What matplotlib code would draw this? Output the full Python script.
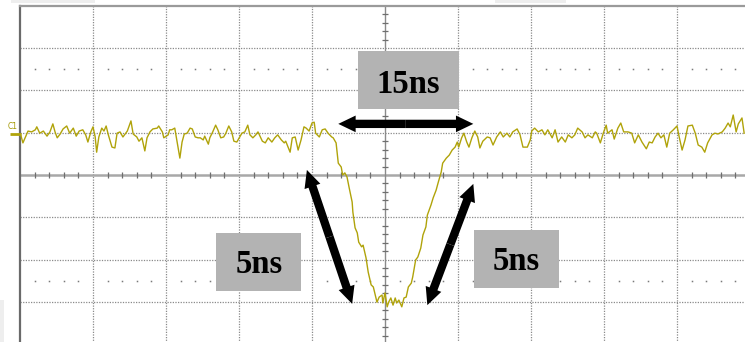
import numpy as np
import matplotlib
matplotlib.use("Agg")
import matplotlib.pyplot as plt
from matplotlib.patches import Rectangle, FancyArrowPatch

# ---- Data (10 ns/div, 10 mV/div) ----
time_ns = [
    -49.9, -49.6, -49.3, -48.9, -48.4, -47.9, -47.7, -47.3, -46.8, -46.3,
    -45.9, -45.5, -45.2, -44.9, -44.5, -44.1, -43.6, -43.2, -42.7, -42.3,
    -41.9, -41.4, -41.0, -40.7, -40.3, -40.0, -39.7, -39.5, -39.2, -38.8,
    -38.5, -38.2, -37.9, -37.4, -37.0, -36.7, -36.3, -35.9, -35.3, -34.8,
    -34.5, -34.0, -33.7, -33.3, -32.9, -32.6, -32.2, -31.8, -31.2, -31.0,
    -30.5, -30.3,
    -29.7, -29.5, -29.2, -28.8, -28.4, -28.1, -27.8, -27.5, -27.1, -26.7,
    -26.4, -26.0, -25.6, -25.3, -24.9, -24.7, -24.2, -24.0, -23.6, -23.2,
    -22.9, -22.5, -22.1, -21.8, -21.4, -21.0, -20.7, -20.3, -19.9, -19.6,
    -19.2, -18.8, -18.5, -18.1, -17.7, -17.4, -16.8, -16.4, -16.0, -15.5,
    -15.1, -14.7, -14.2, -13.8, -13.6, -13.0, -12.7, -12.3, -11.9, -11.5,
    -11.1, -10.8, -10.4, -10.0, -9.7, -9.5, -9.0, -8.6, -8.2, -7.8, -7.3,
    -7.1, -6.7, -6.4, -6.0, -5.8, -5.5, -5.2, -4.9, -4.5, -4.4,
    -4.1, -3.8, -3.6, -3.2, -3.0, -2.6, -2.3, -1.9, -1.6, -1.4,
    -1.1, -0.8, -0.4, -0.3, 0.0, 0.3, 0.5, 0.8, 1.1, 1.4,
    1.6, 1.9, 2.3, 2.6, 2.9, 3.2, 3.6, 3.8, 4.2, 4.5,
    4.9, 5.2, 5.6, 5.8, 6.3, 6.6, 7.0, 7.3, 7.7, 7.9,
    8.4, 8.8, 9.2, 9.6, 9.9, 10.1, 10.5, 10.8, 11.2, 11.5,
    11.9, 12.3, 12.7, 13.0, 13.4, 14.0, 14.4, 14.8, 15.3, 15.8,
    16.2, 16.7, 17.1, 17.5, 18.1, 18.5, 18.9, 19.5, 19.9, 20.1,
    20.5, 21.0, 21.5, 21.9, 22.3, 22.9, 23.3, 23.7, 24.2, 24.7,
    25.1, 25.6, 26.0, 26.4, 27.0, 27.4, 27.8, 28.4, 28.8,
    29.0, 29.5, 29.9, 30.3, 30.5, 31.1, 31.4, 31.9, 32.3, 32.7,
    33.3, 33.8, 34.2, 34.7, 35.2, 35.8, 36.2, 36.6, 37.0, 37.4,
    37.8, 38.2, 38.6, 39.0, 39.5, 40.0, 40.3, 40.7, 41.1, 41.5,
    42.1, 42.5, 42.9, 43.4, 43.8, 44.2, 44.8, 45.2, 45.6, 46.2,
    46.6, 47.0, 47.3, 47.7, 48.1, 48.4, 48.9, 49.2,
]
amp_mv = [
    9.5, 7.6, 8.8, 10.4, 10.2, 10.7, 11.4, 9.9, 10.4, 9.2,
    10.2, 12.1, 10.2, 8.8, 9.7, 10.9, 11.6, 9.9, 11.1, 9.2,
    10.4, 10.7, 9.5, 7.8, 10.2, 11.4, 9.0, 5.4, 9.0, 11.1,
    10.4, 11.6, 9.5, 6.6, 6.4, 9.9, 10.2, 9.0, 10.4, 12.8,
    9.7, 9.0, 8.0, 8.8, 5.7, 8.8, 10.2, 10.9, 11.1, 11.6,
    10.2, 8.8,
    9.5, 10.7, 10.7, 11.1, 7.1, 4.0, 7.8, 9.7, 9.9, 11.1,
    10.9, 9.0, 8.8, 8.8, 8.3, 9.2, 7.3, 8.8, 10.2, 11.8,
    10.7, 8.8, 9.0, 9.9, 11.6, 10.2, 8.0, 7.8, 9.0, 9.9,
    10.2, 11.8, 9.5, 8.8, 9.5, 10.2, 8.0, 7.6, 8.8, 7.8,
    8.8, 9.5, 8.3, 7.6, 8.0, 5.4, 8.8, 9.0, 5.9, 8.3,
    11.4, 11.1, 10.4, 12.3, 12.5, 9.9, 9.0, 10.7, 10.9, 9.9, 9.0,
    8.8, 7.6, 2.8, 1.9, 0.0, 0.5, -0.5, -3.1, -6.4, -8.8,
    -12.5, -13.7, -15.9, -17.0, -16.6, -19.6, -23.0, -26.0, -26.5, -27.9,
    -30.1, -28.9, -28.4, -30.3, -27.9, -31.2, -30.1, -29.1, -30.8, -29.1,
    -30.3, -29.6, -31.2, -29.1, -28.9, -26.5, -25.6, -24.1, -20.1, -19.4,
    -17.3, -14.2, -12.3, -9.5, -7.1, -5.4, -3.6, -1.7, 0.7, 2.8,
    4.0, 4.7, 5.9, 6.6, 7.8, 6.6, 8.8, 9.9, 7.8, 6.6,
    8.8, 10.4, 9.0, 6.4, 8.0, 9.0, 8.8, 7.1, 9.0, 10.2,
    9.0, 9.9, 9.0, 10.2, 10.9, 9.5, 6.6, 6.6, 8.3, 10.4,
    11.1, 10.2, 10.7, 9.5, 10.7, 8.8, 10.7, 7.8, 9.0, 7.8,
    9.5, 8.8, 9.5, 11.1, 10.2, 8.8, 9.5, 8.8, 10.2,
    9.9, 7.6, 9.9, 11.8, 9.9, 10.7, 8.5, 11.1, 12.3, 10.2,
    10.2, 9.9, 7.6, 9.5, 7.8, 6.2, 7.8, 7.6, 9.0, 9.9,
    8.8, 9.5, 6.6, 9.9, 10.7, 11.6, 9.0, 5.9, 8.3, 11.6,
    11.8, 9.9, 7.1, 6.6, 5.4, 7.6, 9.5, 9.9, 9.7, 10.2,
    11.1, 12.3, 11.4, 14.2, 10.2, 12.1, 13.5, 9.9,
]
channel_label = "C1"
box_labels = ["15ns", "5ns", "5ns"]

# ---- Figure ----
W, H = 745, 342
fig = plt.figure(figsize=(W / 100, H / 100), dpi=100)
fig.patch.set_facecolor("white")
ax = fig.add_axes([20 / W, (H - 344) / H, 730 / W, 338 / H])
ax.set_xlim(-50, 50)
ax.set_ylim(-40, 40)
ax.axis("off")

# faint background artefacts
for (x0, y0, w, h) in [(11, H - 3, 84, 3), (495, H - 3, 71, 3), (0, 0, 4, 42)]:
    fig.patches.append(Rectangle((x0 / W, y0 / H), w / W, h / H, transform=fig.transFigure,
                                 facecolor="#eeeeee", edgecolor="none", zorder=0))

# graticule
dot = (0, (1, 1.1))
for t in np.arange(-40, 41, 10):
    if t != 0:
        ax.axvline(t, color="#8a8a8a", lw=0.9, ls=dot, zorder=1)
for v in np.arange(-30, 31, 10):
    if v != 0:
        ax.axhline(v, color="#8a8a8a", lw=0.9, ls=dot, zorder=1)
ax.axhline(0, color="#a8a8a8", lw=1.8, zorder=1)
ax.axvline(0, color="#8a8a8a", lw=1.0, zorder=1)
ax.axvline(-50, color="#6a6a6a", lw=1.6, zorder=2, clip_on=False)
ax.axhline(40, color="#9a9a9a", lw=1.6, zorder=2, clip_on=False)

minor_t = np.array([t for t in np.arange(-48, 50, 2) if t % 10 != 0])
minor_v = np.array([v for v in np.arange(-38, 40, 2) if v % 10 != 0])
ax.vlines(minor_t, -0.75, 0.75, color="#6e6e6e", lw=0.9, zorder=2)
ax.hlines(minor_v, -0.45, 0.45, color="#6e6e6e", lw=0.9, zorder=2)
for lev in (25, -25):
    ax.plot(minor_t, np.full(minor_t.shape, lev), ls="none", marker="s", ms=1.1,
            mec="none", color="#7a7a7a", zorder=2)

# trace
trace_color = "#b0a30a"
ax.plot(time_ns, amp_mv, color=trace_color, lw=1.0, zorder=3)

# channel marker
ax.text(-51.7, 11.4, channel_label, fontsize=5.5, color="#a39700", ha="left",
        va="center", clip_on=False, zorder=4)
ax.plot([-51.4, -49.9], [9.6, 9.6], color=trace_color, lw=2.0,
        solid_capstyle="butt", clip_on=False, zorder=4)

# annotation boxes
box_spec = [
    ((-3.7, 15.6, 13.8, 13.7), (3.2, 19.4)),
    ((-23.2, -27.5, 11.7, 13.8), (-17.3, -23.2)),
    ((12.2, -26.7, 11.6, 13.7), (18.0, -22.5)),
]
for label, ((x0, y0, w, h), (tx, ty)) in zip(box_labels, box_spec):
    ax.add_patch(Rectangle((x0, y0), w, h, facecolor="#b3b3b3", edgecolor="none", zorder=5))
    ax.text(tx, ty, label, fontsize=23.5, fontweight="bold", family="Liberation Serif",
            ha="center", va="baseline", color="black", zorder=6)


def double_arrow(p0, p1):
    mid = ((p0[0] + p1[0]) / 2, (p0[1] + p1[1]) / 2)
    for end in (p0, p1):
        ax.add_patch(FancyArrowPatch(
            mid, end,
            arrowstyle="simple,head_length=12.5,head_width=12,tail_width=6",
            mutation_scale=1, color="black", lw=0, shrinkA=0, shrinkB=0, zorder=7))


double_arrow((-6.4, 12.1), (12.1, 12.1))
double_arrow((-10.7, 1.2), (-4.5, -30.5))
double_arrow((12.1, -2.1), (5.8, -30.8))

fig.savefig("out.png", dpi=100, facecolor="white")
